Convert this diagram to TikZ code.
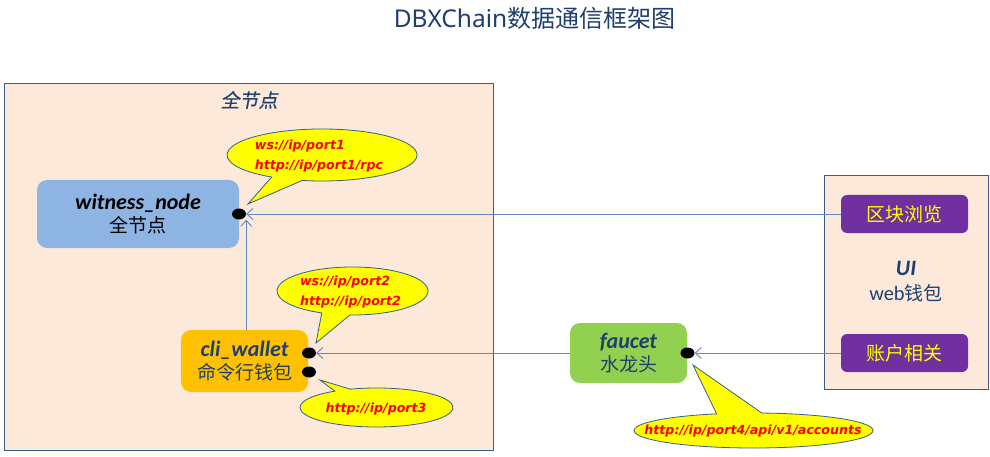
\documentclass[tikz,border=0pt]{standalone}
\usepackage{fontspec}
\setmainfont{Carlito}
\newfontfamily\cjk{Noto Sans CJK SC}
\newfontfamily\cjksl{Noto Sans CJK SC}[FakeSlant=0.2,FakeBold=0.6]
\newfontfamily\callfont{DejaVu Sans}
\newfontfamily\ttlfont{Noto Sans}
\usetikzlibrary{arrows.meta,calc,shapes.geometric}
\definecolor{peach}{HTML}{FDE9D9}
\definecolor{frame}{HTML}{385D8A}
\definecolor{wblue}{HTML}{8DB4E2}
\definecolor{cgold}{HTML}{FFC000}
\definecolor{fgreen}{HTML}{92D050}
\definecolor{upurple}{HTML}{7030A0}
\definecolor{dblue}{HTML}{1F3F6E}
\definecolor{lineblue}{HTML}{5F88C4}
\definecolor{callyellow}{HTML}{FFFF00}
\newcommand\boxlat[1]{{\fontsize{22}{23}\selectfont\bfseries\itshape #1}}
\newcommand\boxcjk[1]{{\cjk\fontsize{19}{23}\selectfont #1}}
\begin{document}
\begin{tikzpicture}[x=1pt,y=-1pt,
  panel/.style={draw=frame,line width=0.9pt,fill=peach},
  compbox/.style={rounded corners=10pt,inner sep=0pt,align=center,font=\fontsize{20}{23}\selectfont},
  uibox/.style={rounded corners=6pt,fill=upurple,inner sep=0pt,minimum width=127pt,minimum height=38pt,text=callyellow},
  dotmark/.style={shape=ellipse,fill=black,inner sep=0pt,minimum width=14pt,minimum height=11pt},
  conn/.style={draw=lineblue,line width=0.9pt,-{Straight Barb[length=6pt,width=11pt,line width=0.9pt]}},
  callout/.style={fill=callyellow,draw=frame,line width=0.8pt},
  calltext/.style={text=red,align=left,inner sep=0pt,font=\callfont\fontsize{12.6}{20}\selectfont\bfseries\itshape}
]
\useasboundingbox (0,0) rectangle (990,457);

% title
\node[text=dblue,inner sep=0pt] (title) at (534.5,18) {{\ttlfont\fontsize{24.5}{28}\selectfont DBXChain}{\cjk\fontsize{24}{28}\selectfont 数据通信框架图}};

% panels
\draw[panel] (4,83) rectangle (493,450);
\draw[panel] (824,175) rectangle (988,389);
\node[text=dblue,inner sep=0pt] (fulltitle) at (249,100) {\cjksl\fontsize{19}{22}\selectfont 全节点};

% component boxes
\node[compbox,fill=wblue,minimum width=202pt,minimum height=68pt] (witness) at (138,214)
  {\boxlat{witness\_node}\\\boxcjk{全节点}};
\node[compbox,fill=cgold,minimum width=127pt,minimum height=62pt,text=dblue] (cli) at (244.5,361)
  {\boxlat{cli\_wallet}\\\boxcjk{命令行钱包}};
\node[compbox,fill=fgreen,minimum width=117pt,minimum height=60pt,text=dblue] (faucet) at (628.5,353)
  {\boxlat{faucet}\\\boxcjk{水龙头}};

% UI
\node[uibox] (zb) at (904.5,214) {\boxcjk{区块浏览}};
\node[uibox] (zh) at (904.5,353) {\boxcjk{账户相关}};
\node[text=dblue,align=center,inner sep=0pt,font=\fontsize{20}{25}\selectfont] (ui) at (906,282)
  {\boxlat{UI}\\{\fontsize{20.5}{25}\selectfont web}\boxcjk{钱包}};

% dots
\node[dotmark] (wdot) at (239,214) {};
\node[dotmark] (cdot1) at (309,353) {};
\node[dotmark] (cdot2) at (309,372) {};
\node[dotmark] (fdot) at (687.5,353) {};

% callouts
\draw[callout] (248,204) -- ($(322,155)+(102:95 and 26)$)
  arc[start angle=102,end angle=-238,x radius=95,y radius=26] -- cycle;
\node[calltext] (c1) at (319,156) {ws://ip/port1\\http://ip/port1/rpc};

\draw[callout] (316,343) -- ($(352.5,291)+(92:75.5 and 24)$)
  arc[start angle=92,end angle=-246,x radius=75.5,y radius=24] -- cycle;
\node[calltext] (c2) at (350.5,292.5) {ws://ip/port2\\http://ip/port2};

\draw[callout] (320,380) -- ($(376.5,407.5)+(-110:76.5 and 19.5)$)
  arc[start angle=-110,end angle=237,x radius=76.5,y radius=19.5] -- cycle;
\node[calltext] (c3) at (376,409) {http://ip/port3};

\draw[callout] (693,365) -- ($(753.5,430.5)+(-86:119.5 and 17.5)$)
  arc[start angle=-86,end angle=252,x radius=119.5,y radius=17.5] -- cycle;
\node[calltext] (c4) at (753,431) {http://ip/port4/api/v1/accounts};

% connectors
\draw[conn] (zb.west) -- (wdot.east);
\draw[conn] (cli.north -| wdot.east) -- (wdot.south -| wdot.east);
\draw[conn] (faucet.west) -- (cdot1.east);
\draw[conn] (zh.west) -- (fdot.east);
\end{tikzpicture}
\end{document}
